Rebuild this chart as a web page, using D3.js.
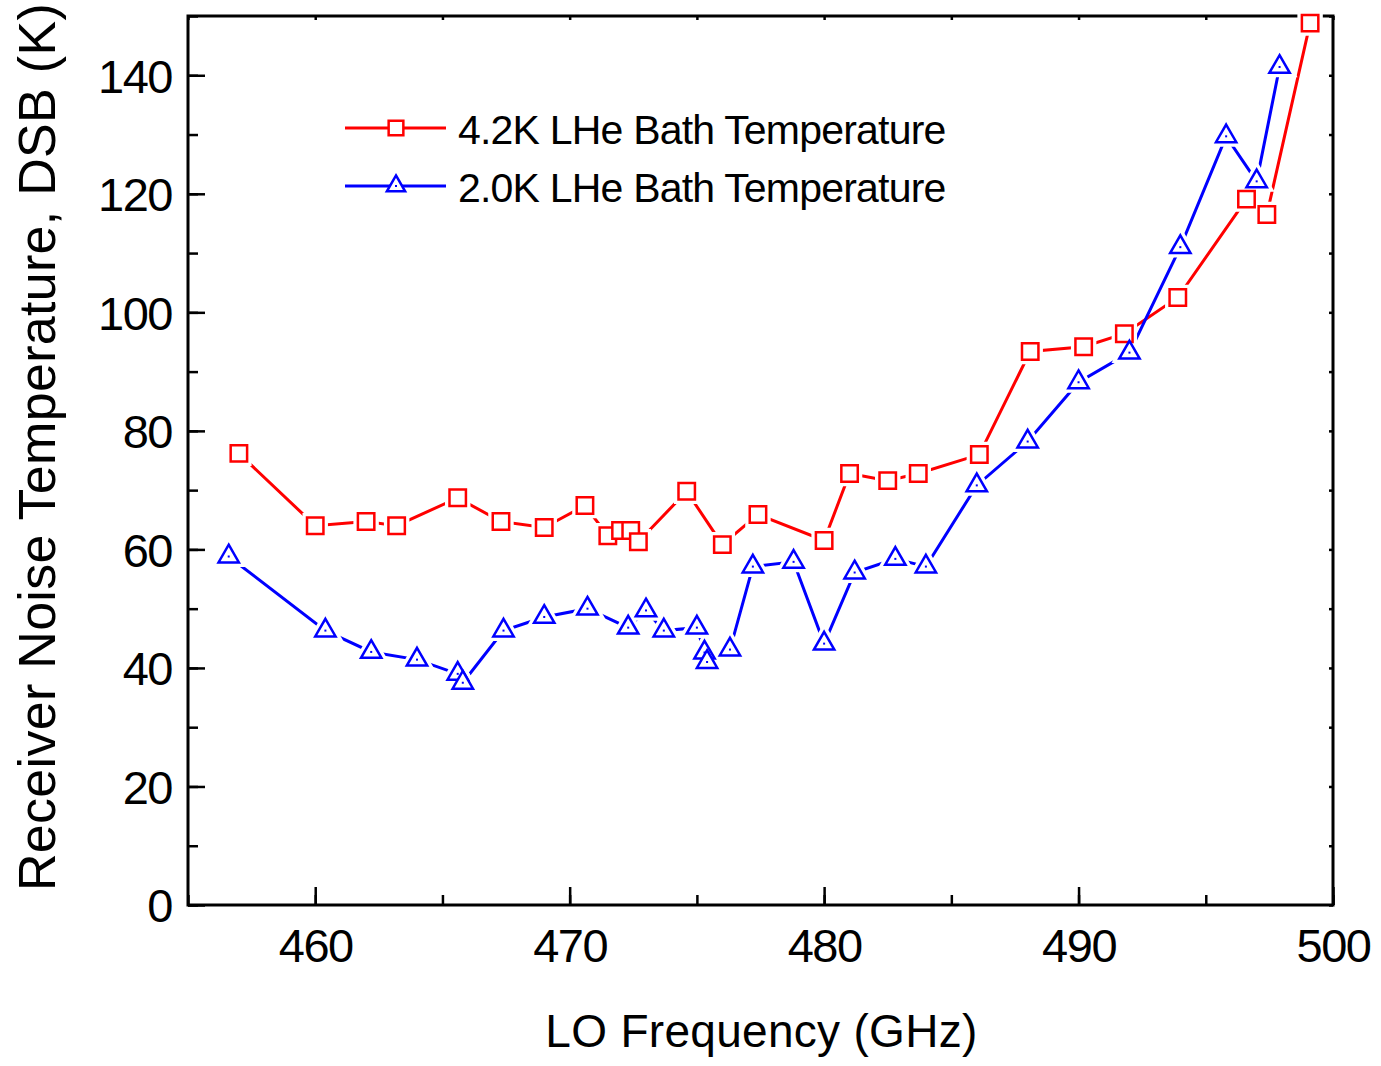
<!DOCTYPE html>
<html>
<head>
<meta charset="utf-8">
<script src="https://cdn.jsdelivr.net/npm/d3@7"></script>
<style>
  body { margin: 0; background: #fff; }
  text { font-family: "Liberation Sans", Arial, sans-serif; fill: #000; }
</style>
</head>
<body>
<div id="chart"></div>
<script>
// data
const freq42 = [457.0, 460.0, 462.0, 463.2, 465.6, 467.3, 469.0, 470.6, 471.5, 472.0, 472.4, 472.7,
  474.6, 476.0, 477.4, 480.0, 481.0, 482.5, 483.7, 486.1, 488.1, 490.2, 491.8, 493.9, 496.6, 497.4, 499.1];
const temp42 = [76.2, 64.0, 64.7, 64.0, 68.7, 64.7, 63.7, 67.4, 62.3, 63.2, 63.2, 61.3,
  69.8, 60.8, 65.9, 61.5, 72.8, 71.6, 72.8, 76.0, 93.4, 94.2, 96.4, 102.5, 119.1, 116.5, 148.8];

const freq20 = [456.6, 460.4, 462.2, 464.0, 465.6, 465.8, 467.4, 469.0, 470.7, 472.3, 473.0, 473.7,
  475.0, 475.3, 475.4, 476.3, 477.2, 478.8, 480.0, 481.2, 482.8, 484.0, 486.0, 488.0, 490.0, 492.0,
  494.0, 495.8, 497.0, 497.9];
const temp20 = [58.8, 46.3, 42.7, 41.4, 39.0, 37.5, 46.3, 48.6, 50.0, 46.8, 49.7, 46.3,
  46.8, 42.6, 41.0, 43.1, 57.1, 57.9, 44.1, 56.1, 58.4, 57.1, 70.8, 78.2, 88.2, 93.2,
  111.0, 129.7, 122.1, 141.4];

const seriesNames = ["4.2K LHe Bath Temperature", "2.0K LHe Bath Temperature"];
const xTickValues = [460, 470, 480, 490, 500];
const yTickValues = [0, 20, 40, 60, 80, 100, 120, 140];

const W = 1381, H = 1066;
const margin = {top: 16, right: 48, bottom: 161, left: 188};
const width = W - margin.left - margin.right,
      height = H - margin.top - margin.bottom;

const svg = d3.select("#chart").append("svg")
  .attr("width", W).attr("height", H);
const g = svg.append("g")
  .attr("transform", `translate(${margin.left},${margin.top})`);

const x = d3.scaleLinear().domain([455, 500]).range([0, width]);
const y = d3.scaleLinear().domain([0, 150]).range([height, 0]);

const d42 = freq42.map((f, i) => ({f: f, t: temp42[i]}));
const d20 = freq20.map((f, i) => ({f: f, t: temp20[i]}));

// axes, ticks point inward
const xMinor = d3.range(455, 501, 5);
const yMinor = d3.range(0, 151, 10);

function styleAxis(sel) {
  sel.select(".domain").remove();
  sel.selectAll("line").attr("stroke", "#000").attr("stroke-width", 2.5);
}

g.append("g").attr("transform", `translate(0,${height})`)
  .call(d3.axisBottom(x).tickValues(xMinor).tickSize(-10).tickFormat(""))
  .call(styleAxis);
g.append("g").attr("transform", `translate(0,${height})`)
  .call(d3.axisBottom(x).tickValues(xTickValues).tickSize(-18).tickPadding(24).tickFormat(d3.format("d")))
  .call(styleAxis)
  .selectAll("text")
    .style("font-size", "47px")
    .style("letter-spacing", "-1.5px")
    .attr("dy", "0.71em");

g.append("g")
  .call(d3.axisLeft(y).tickValues(yMinor).tickSize(-10).tickFormat(""))
  .call(styleAxis);
g.append("g")
  .call(d3.axisLeft(y).tickValues(yTickValues).tickSize(-17).tickPadding(16).tickFormat(d3.format("d")))
  .call(styleAxis)
  .selectAll("text")
    .style("font-size", "47px")
    .style("letter-spacing", "-1.5px")
    .attr("dy", "0.36em");

// mirror ticks on top and right
g.append("g")
  .call(d3.axisTop(x).tickValues(xMinor).tickSize(-4).tickFormat(""))
  .call(styleAxis);
g.append("g").attr("transform", `translate(${width},0)`)
  .call(d3.axisRight(y).tickValues(yMinor).tickSize(-4).tickFormat(""))
  .call(styleAxis);

g.append("rect")
  .attr("width", width).attr("height", height)
  .attr("fill", "none").attr("stroke", "#000").attr("stroke-width", 3);

// lines
const line = d3.line().x(d => x(d.f)).y(d => y(d.t));
const series = [
  {data: d42, color: "#ff0000", sym: d3.symbolSquare, size: 270},
  {data: d20, color: "#0000ff", sym: d3.symbolTriangle, size: 180}
];

series.forEach(s => {
  g.append("path").datum(s.data)
    .attr("d", line)
    .attr("fill", "none")
    .attr("stroke", s.color)
    .attr("stroke-width", 3);
});

// white halo so the line stops short of the marker
series.forEach(s => {
  g.append("g").selectAll("path")
    .data(s.data)
    .join("path")
      .attr("transform", d => `translate(${x(d.f)},${y(d.t)})`)
      .attr("d", d3.symbol().type(s.sym).size(s.size))
      .attr("fill", "#fff")
      .attr("stroke", "#fff")
      .attr("stroke-width", 9);
});

series.forEach(s => {
  const m = g.append("g").selectAll("g")
    .data(s.data)
    .join("g")
      .attr("transform", d => `translate(${x(d.f)},${y(d.t)})`);
  m.append("path")
    .attr("d", d3.symbol().type(s.sym).size(s.size))
    .attr("fill", "#fff")
    .attr("stroke", s.color)
    .attr("stroke-width", 2.5);
  if (s.sym === d3.symbolTriangle) {
    m.append("rect").attr("x", -1).attr("y", -1).attr("width", 2).attr("height", 2)
      .attr("fill", s.color);
  }
});

// legend
const legend = svg.append("g");
series.forEach((s, i) => {
  const ly = 128 + i * 58;
  const row = legend.append("g").attr("transform", `translate(0,${ly})`);
  row.append("line").attr("x1", 345).attr("x2", 446).attr("y1", 0).attr("y2", 0)
    .attr("stroke", s.color).attr("stroke-width", 3);
  row.append("path")
    .attr("transform", "translate(396,0)")
    .attr("d", d3.symbol().type(s.sym).size(s.size * 0.8))
    .attr("fill", "#fff").attr("stroke", s.color).attr("stroke-width", 2.5);
  if (s.sym === d3.symbolTriangle) {
    row.append("rect").attr("x", 395).attr("y", -1).attr("width", 2).attr("height", 2).attr("fill", s.color);
  }
  row.append("text")
    .attr("x", 458).attr("y", 16)
    .style("font-size", "41px")
    .style("letter-spacing", "-0.8px")
    .text(seriesNames[i]);
});

// axis titles
svg.append("text")
  .attr("x", margin.left + width / 2 + 1).attr("y", 1047)
  .attr("text-anchor", "middle")
  .style("font-size", "46px")
  .style("letter-spacing", "0.3px")
  .text("LO Frequency (GHz)");

svg.append("text")
  .attr("transform", "translate(55,447) rotate(-90)")
  .attr("text-anchor", "middle")
  .style("font-size", "52px")
  .style("letter-spacing", "0.3px")
  .text("Receiver Noise Temperature, DSB (K)");
</script>
</body>
</html>
